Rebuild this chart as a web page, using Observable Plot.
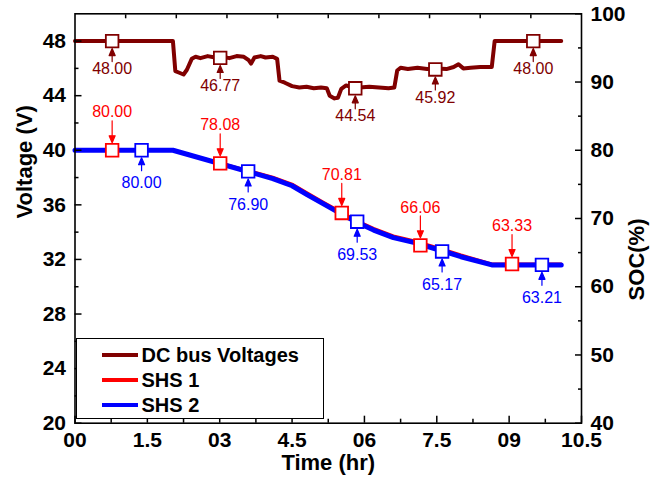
<!DOCTYPE html>
<html>
<head>
<meta charset="utf-8">
<script src="https://cdn.jsdelivr.net/npm/d3@7"></script>
<script src="https://cdn.jsdelivr.net/npm/@observablehq/plot@0.6"></script>
<style>
html, body { margin: 0; padding: 0; background: #fff; }
#wrap { position: relative; width: 654px; height: 482px; font-family: "Liberation Sans", Arial, sans-serif; }
#legend { position: absolute; left: 76px; top: 338px; width: 248px; height: 81px; border: 1.5px solid #000; background: #fff; box-sizing: border-box; }
.swatch { position: absolute; left: 24.5px; width: 36px; height: 4px; }
.lbl { position: absolute; left: 64.5px; font-weight: bold; font-size: 20px; line-height: 20px; white-space: nowrap; color: #000; }
</style>
</head>
<body>
<div id="wrap"><div id="chart"></div><div id="legend"></div></div>
<script>
// ---- data ----
const dcHours = [0, 2.03, 2.08, 2.15, 2.25, 2.32, 2.42, 2.5, 2.6, 2.75, 2.9, 3.05, 3.2, 3.35, 3.5, 3.6, 3.65, 3.72, 3.85, 3.95, 4.1, 4.19, 4.24, 4.35, 4.5, 4.65, 4.8, 4.95, 5.1, 5.22, 5.28, 5.38, 5.45, 5.52, 5.62, 5.75, 5.9, 6.1, 6.3, 6.5, 6.62, 6.68, 6.75, 6.9, 7.1, 7.3, 7.5, 7.7, 7.85, 7.95, 8.05, 8.2, 8.4, 8.64, 8.7, 10.08];
const dcVolt  = [48, 48, 45.8, 45.7, 45.55, 45.9, 46.7, 46.85, 46.75, 46.9, 46.8, 46.85, 46.75, 46.9, 46.85, 46.6, 46.35, 46.8, 46.9, 46.8, 46.85, 46.7, 45.1, 44.95, 44.7, 44.6, 44.65, 44.55, 44.6, 44.55, 44.0, 43.8, 43.85, 44.5, 44.75, 44.6, 44.6, 44.65, 44.6, 44.55, 44.6, 45.85, 46.05, 45.95, 46.05, 45.95, 46.0, 45.95, 46.1, 46.3, 46.0, 46.05, 46.1, 46.1, 48, 48];

const socHours = [0, 2.03, 4.1, 4.5, 4.81, 5.16, 5.5, 5.85, 6.19, 6.6, 7.02, 7.57, 8.0, 8.64, 10.08];
const shs1Soc  = [80, 80, 76.05, 75.05, 73.75, 72.35, 71.0, 69.65, 68.55, 67.45, 66.75, 65.6, 64.65, 63.35, 63.35];
const shs2Soc  = [80, 80, 75.85, 74.8, 73.5, 72.1, 70.75, 69.4, 68.3, 67.2, 66.5, 65.35, 64.4, 63.2, 63.2];

const dcMarkHours   = [0.77, 3.01, 5.81, 7.47, 9.5];
const dcMarkValues  = [48.00, 46.77, 44.54, 45.92, 48.00];
const shs1MarkHours  = [0.77, 3.01, 5.53, 7.16, 9.06];
const shs1MarkValues = [80.00, 78.08, 70.81, 66.06, 63.33];
const shs2MarkHours  = [1.38, 3.59, 5.85, 7.61, 9.68];
const shs2MarkValues = [80.00, 76.90, 69.53, 65.17, 63.21];

const xTicks = [0, 1.5, 3, 4.5, 6, 7.5, 9, 10.5];
const xTickLabels = ["00", "1.5", "03", "4.5", "06", "7.5", "09", "10.5"];
const voltTicks = [20, 24, 28, 32, 36, 40, 44, 48];
const voltMinor = [22, 26, 30, 34, 38, 42, 46];
const socTicks = [40, 50, 60, 70, 80, 90, 100];
const socMinor = [45, 55, 65, 75, 85, 95];
const topDivisions = 10;

const legendNames = ["DC bus Voltages", "SHS 1", "SHS 2"];
const DC = "#800000", RED = "#ff0000", BLUE = "#0000ff";
const legendColors = [DC, RED, BLUE];

// ---- helpers ----
const socToV = s => 20 + (s - 40) / 2;
const vToSoc = v => 40 + (v - 20) * 2;
const xMinor = xTicks.slice(0, -1).map((t, i) => (t + xTicks[i + 1]) / 2);
const topTicks = d3.range(1, topDivisions).map(i => i * 10.5 / topDivisions);
const font = '"Liberation Sans", Arial, sans-serif';

const dcLine = dcHours.map((h, i) => ({x: h, y: dcVolt[i]}));
const s1Line = socHours.map((h, i) => ({x: h, y: socToV(shs1Soc[i])}));
const s2Line = socHours.map((h, i) => ({x: h, y: socToV(shs2Soc[i])}));
const dcMarks = dcMarkHours.map((h, i) => ({x: h, y: dcMarkValues[i], t: dcMarkValues[i].toFixed(2)}));
const s1Marks = shs1MarkHours.map((h, i) => ({x: h, y: socToV(shs1MarkValues[i]), t: shs1MarkValues[i].toFixed(2)}));
const s2Marks = shs2MarkHours.map((h, i) => ({x: h, y: socToV(shs2MarkValues[i]), t: shs2MarkValues[i].toFixed(2)}));

const arrowShape = {
  draw(ctx, l) {
    ctx.moveTo(0, 0); ctx.lineTo(0, -l + 5);
    ctx.moveTo(0, -l); ctx.lineTo(-3, -l + 7); ctx.lineTo(3, -l + 7); ctx.closePath();
  }
};

const tickOnly = {stroke: "#000", strokeWidth: 1.5, tickFormat: () => "", label: null};
const labelStyle = {tickSize: 0, tickPadding: 9, fontSize: 21, fontWeight: "bold", fontFamily: font, label: null, fill: "#000"};

function markerSet(data, color, above) {
  return [
    Plot.dot(data, {x: "x", y: "y", symbol: "square", r: 7.1, stroke: color, fill: "white", strokeWidth: 1.8}),
    Plot.vector(data, {x: "x", y: "y", length: above ? 22 : 13, rotate: above ? 180 : 0, anchor: "end",
      dy: above ? -7.5 : 7.5, shape: arrowShape, stroke: color, fill: color, strokeWidth: 1.2}),
    Plot.text(data, {x: "x", y: "y", text: "t", dy: above ? -38 : (color === BLUE ? 33 : 28), fill: color,
      fontSize: 16, fontFamily: font})
  ];
}

const chart = Plot.plot({
  width: 654, height: 482,
  marginLeft: 74.5, marginRight: 73, marginTop: 13.3, marginBottom: 59.3,
  x: {domain: [0, 10.5]},
  y: {domain: [20, 50]},
  style: {fontFamily: font, background: "white", overflow: "visible"},
  marks: [
    Plot.line(s1Line, {x: "x", y: "y", stroke: RED, strokeWidth: 3, strokeLinejoin: "round"}),
    Plot.line(s2Line, {x: "x", y: "y", stroke: BLUE, strokeWidth: 5, strokeLinejoin: "round"}),
    Plot.line(dcLine, {x: "x", y: "y", stroke: DC, strokeWidth: 4, strokeLinejoin: "round"}),
    ...markerSet(dcMarks, DC, false),
    ...markerSet(s1Marks, RED, true),
    ...markerSet(s2Marks, BLUE, false),
    Plot.frame({stroke: "#000", strokeWidth: 1.6}),
    // bottom axis
    Plot.axisX(xTicks, {anchor: "bottom", ...labelStyle, tickFormat: d => xTickLabels[xTicks.indexOf(d)]}),
    Plot.axisX(xTicks, {anchor: "bottom", tickSize: -7, ...tickOnly}),
    Plot.axisX(xMinor, {anchor: "bottom", tickSize: -4, ...tickOnly}),
    // top ticks
    Plot.axisX(topTicks, {anchor: "top", tickSize: -4, ...tickOnly}),
    // left axis
    Plot.axisY(voltTicks, {anchor: "left", ...labelStyle}),
    Plot.axisY(voltTicks, {anchor: "left", tickSize: -7, ...tickOnly}),
    Plot.axisY(voltMinor, {anchor: "left", tickSize: -4, ...tickOnly}),
    // right axis
    Plot.axisY(socTicks.map(socToV), {anchor: "right", ...labelStyle, tickFormat: v => String(Math.round(vToSoc(v)))}),
    Plot.axisY(socTicks.map(socToV), {anchor: "right", tickSize: -7, ...tickOnly}),
    Plot.axisY(socMinor.map(socToV), {anchor: "right", tickSize: -4, ...tickOnly}),
    // axis titles
    Plot.text(["Time (hr)"], {text: d => d, frameAnchor: "bottom", dy: 47, fontSize: 22, fontWeight: "bold", fontFamily: font, fill: "#000"}),
    Plot.text(["Voltage (V)"], {text: d => d, frameAnchor: "left", dx: -50, rotate: -90, fontSize: 22, fontWeight: "bold", fontFamily: font, fill: "#000"}),
    Plot.text(["SOC(%)"], {text: d => d, frameAnchor: "right", dx: 55, rotate: -90, fontSize: 22, fontWeight: "bold", fontFamily: font, fill: "#000"})
  ]
});
document.getElementById("chart").appendChild(chart);

// legend
const legend = document.getElementById("legend");
const rowCenters = [16.2, 40.5, 65.5];
legendNames.forEach((name, i) => {
  const sw = document.createElement("div");
  sw.className = "swatch";
  sw.style.background = legendColors[i];
  sw.style.top = (rowCenters[i] - 2) + "px";
  legend.appendChild(sw);
  const lb = document.createElement("div");
  lb.className = "lbl";
  lb.textContent = name;
  lb.style.top = (rowCenters[i] - 10) + "px";
  legend.appendChild(lb);
});
</script>
</body>
</html>
